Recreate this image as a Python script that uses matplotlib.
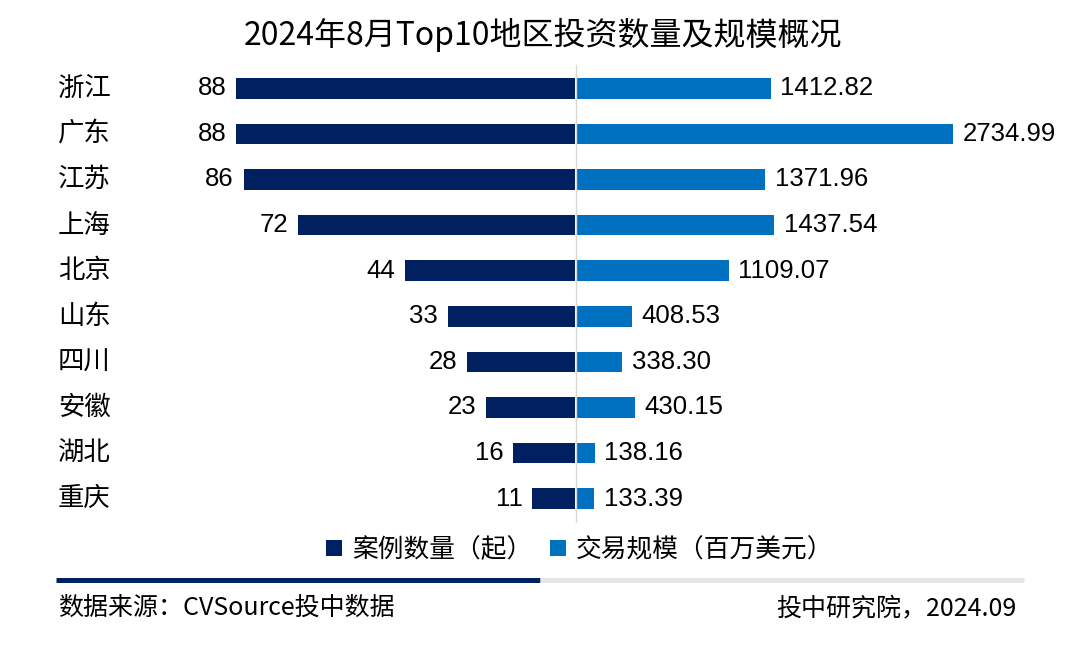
import matplotlib
matplotlib.use("Agg")
import matplotlib.pyplot as plt
from matplotlib.transforms import blended_transform_factory
from matplotlib.lines import Line2D
from matplotlib.patches import Patch

plt.rcParams['font.family'] = ['Noto Sans CJK SC', 'DejaVu Sans']

regions = ["浙江", "广东", "江苏", "上海", "北京", "山东", "四川", "安徽", "湖北", "重庆"]
counts = [88, 88, 86, 72, 44, 33, 28, 23, 16, 11]
amounts = [1412.82, 2734.99, 1371.96, 1437.54, 1109.07, 408.53, 338.30, 430.15, 138.16, 133.39]
count_labels = [str(v) for v in counts]
amount_labels = [f"{v:.2f}" for v in amounts]

title = "2024年8月Top10地区投资数量及规模概况"
legend_labels = ["案例数量（起）", "交易规模（百万美元）"]
source_text = "数据来源：CVSource投中数据"
credit_text = "投中研究院，2024.09"

NAVY = "#002060"
BLUE = "#0070C0"
NUM_FONT = ['Liberation Sans', 'Noto Sans CJK SC']

W, H = 1080, 652
fig = plt.figure(figsize=(W / 100, H / 100), dpi=100)
fig.patch.set_facecolor("white")

bottom = 1 - 521.5 / H
height = (521.5 - 65.5) / H
ax_l = fig.add_axes([150 / W, bottom, (574.5 - 150) / W, height])
ax_r = fig.add_axes([575.5 / W, bottom, (1070 - 575.5) / W, height])

y = list(range(len(regions)))
ax_l.barh(y, counts, height=0.45, color=NAVY)
ax_r.barh(y, amounts, height=0.45, color=BLUE)

ax_l.set_xlim(424.5 / 3.847, 0)
ax_r.set_xlim(0, 494.5 / 0.13803)
for ax in (ax_l, ax_r):
    ax.set_ylim(len(regions) - 0.5, -0.5)
    ax.set_xticks([])
    ax.set_yticks([])
    for s in ax.spines.values():
        s.set_visible(False)
    ax.patch.set_alpha(0)

ax_r.spines['left'].set_visible(True)
ax_r.spines['left'].set_color("#D9D9D9")
ax_r.spines['left'].set_linewidth(1.0)

for yi, v, lab in zip(y, counts, count_labels):
    ax_l.annotate(lab, (v, yi), xytext=(-7, 0), textcoords="offset points",
                  ha="right", va="center", fontsize=18.5, family=NUM_FONT, color="black")
for yi, v, lab in zip(y, amounts, amount_labels):
    ax_r.annotate(lab, (v, yi), xytext=(7, 0), textcoords="offset points",
                  ha="left", va="center", fontsize=18.5, family=NUM_FONT, color="black")

tr = blended_transform_factory(fig.transFigure, ax_l.transData)
for yi, r in zip(y, regions):
    fig.text(58 / W, yi, r, transform=tr, ha="left", va="center", fontsize=19, color="black")

fig.text(543 / W, 1 - 35 / H, title, ha="center", va="center", fontsize=23, color="black")

handles = [Patch(facecolor=NAVY, edgecolor="none"), Patch(facecolor=BLUE, edgecolor="none")]
fig.legend(handles, legend_labels, loc="center", bbox_to_anchor=(580 / W, 1 - 550 / H),
           ncol=2, frameon=False, fontsize=18.5, handlelength=0.6, handleheight=0.6,
           handletextpad=0.4, columnspacing=0.7, borderaxespad=0)

ly = 1 - 580 / H
fig.add_artist(Line2D([56 / W, 540 / W], [ly, ly], transform=fig.transFigure, color=NAVY, linewidth=3.6, solid_capstyle="butt"))
fig.add_artist(Line2D([540 / W, 1024 / W], [ly, ly], transform=fig.transFigure, color="#E6E6E6", linewidth=3.6, solid_capstyle="butt"))

fig.text(58 / W, 1 - 608 / H, source_text, ha="left", va="center", fontsize=18, color="black")
fig.text(1016 / W, 1 - 608 / H, credit_text, ha="right", va="center", fontsize=18, color="black")

fig.savefig("out.png", dpi=100, facecolor="white")
